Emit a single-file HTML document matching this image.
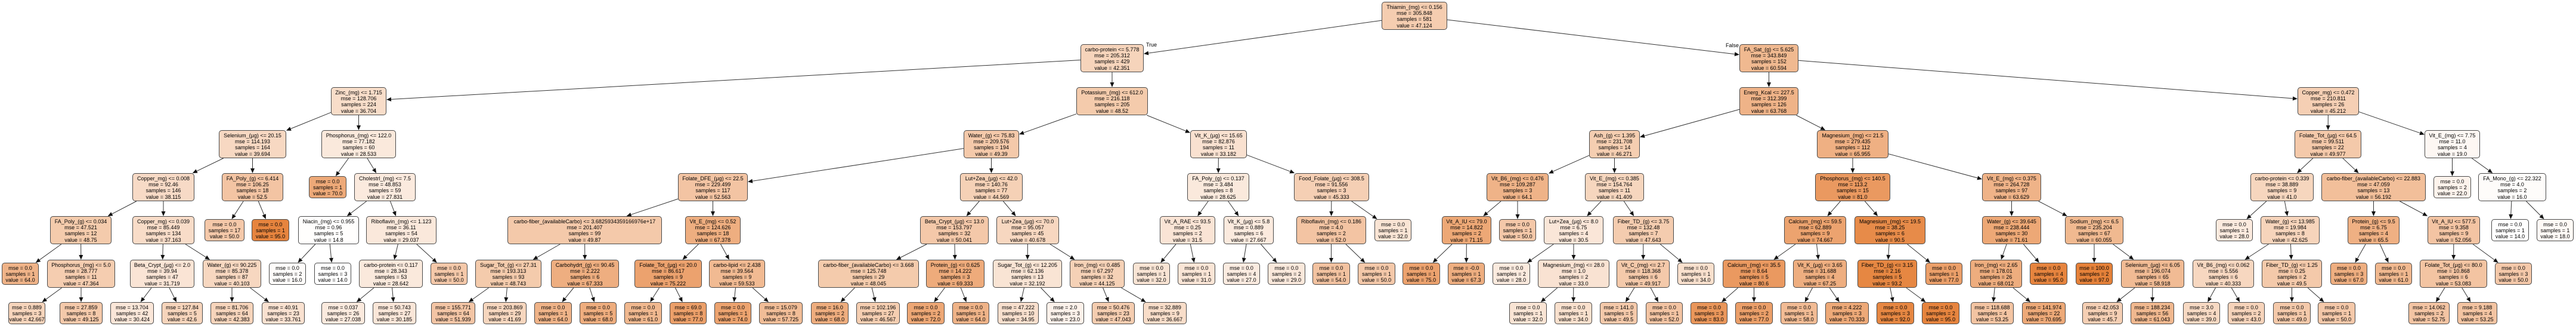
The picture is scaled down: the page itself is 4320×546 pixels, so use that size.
<!DOCTYPE html>
<html><head><meta charset="utf-8"><style>
html,body{margin:0;padding:0;background:#fff;}
#w{position:relative;width:4320px;height:546px;overflow:hidden;background:#fff;}
.n{position:absolute;box-sizing:border-box;height:47px;border:1px solid #4a4a4a;border-radius:5px;font:9px/10.2px "Liberation Sans",sans-serif;color:#000;text-align:center;padding-top:3px;white-space:nowrap;}
.l{height:37px;}
.lb{position:absolute;font:9px "Liberation Sans",sans-serif;color:#000;}
svg{position:absolute;left:0;top:0;}
</style></head><body><div id="w">
<div class="n" id="n1" style="left:2317px;top:3px;width:110px;background:#f5cdb0">Thiamin_(mg) &lt;= 0.156<br>mse = 305.848<br>samples = 581<br>value = 47.124</div>
<div class="n" id="n2" style="left:1812px;top:74px;width:106px;background:#f6d4bb">carbo-protein &lt;= 5.778<br>mse = 205.312<br>samples = 429<br>value = 42.351</div>
<div class="n" id="n3" style="left:2917px;top:74px;width:99px;background:#f0b990">FA_Sat_(g) &lt;= 5.625<br>mse = 343.849<br>samples = 152<br>value = 60.594</div>
<div class="n" id="n4" style="left:555px;top:146px;width:93px;background:#f8ddc9">Zinc_(mg) &lt;= 1.715<br>mse = 128.706<br>samples = 224<br>value = 36.704</div>
<div class="n" id="n5" style="left:1805px;top:146px;width:120px;background:#f4cbac">Potassium_(mg) &lt;= 612.0<br>mse = 216.118<br>samples = 205<br>value = 48.52</div>
<div class="n" id="n6" style="left:2917px;top:146px;width:99px;background:#efb388">Energ_Kcal &lt;= 227.5<br>mse = 312.399<br>samples = 126<br>value = 63.768</div>
<div class="n" id="n7" style="left:3853px;top:146px;width:103px;background:#f5cfb4">Copper_mg) &lt;= 0.472<br>mse = 210.811<br>samples = 26<br>value = 45.212</div>
<div class="n" id="n8" style="left:367px;top:218px;width:113px;background:#f7d8c2">Selenium_(µg) &lt;= 20.15<br>mse = 114.193<br>samples = 164<br>value = 39.694</div>
<div class="n" id="n9" style="left:539px;top:218px;width:125px;background:#fae9dc">Phosphorus_(mg) &lt;= 122.0<br>mse = 77.182<br>samples = 60<br>value = 28.533</div>
<div class="n" id="n10" style="left:1616px;top:218px;width:93px;background:#f4c9aa">Water_(g) &lt;= 75.83<br>mse = 209.576<br>samples = 194<br>value = 49.39</div>
<div class="n" id="n11" style="left:1996px;top:218px;width:95px;background:#f9e1d0">Vit_K_(µg) &lt;= 15.65<br>mse = 82.876<br>samples = 11<br>value = 33.182</div>
<div class="n" id="n12" style="left:2665px;top:218px;width:85px;background:#f5ceb1">Ash_(g) &lt;= 1.395<br>mse = 231.708<br>samples = 14<br>value = 46.271</div>
<div class="n" id="n13" style="left:3047px;top:218px;width:120px;background:#efb083">Magnesium_(mg) &lt;= 21.5<br>mse = 279.435<br>samples = 112<br>value = 65.955</div>
<div class="n" id="n14" style="left:3848px;top:218px;width:112px;background:#f4c9aa">Folate_Tot_(µg) &lt;= 64.5<br>mse = 99.511<br>samples = 22<br>value = 49.977</div>
<div class="n" id="n15" style="left:4066px;top:218px;width:93px;background:#fdf7f3">Vit_E_(mg) &lt;= 7.75<br>mse = 11.0<br>samples = 4<br>value = 19.0</div>
<div class="n" id="n16" style="left:222px;top:290px;width:104px;background:#f7dac6">Copper_mg) &lt;= 0.008<br>mse = 92.46<br>samples = 146<br>value = 38.115</div>
<div class="n" id="n17" style="left:372px;top:290px;width:103px;background:#f3c4a3">FA_Poly_(g) &lt;= 6.414<br>mse = 106.25<br>samples = 18<br>value = 52.5</div>
<div class="n l" id="n18" style="left:518px;top:295px;width:63px;background:#eda978">mse = 0.0<br>samples = 1<br>value = 70.0</div>
<div class="n" id="n19" style="left:594px;top:290px;width:103px;background:#fbeade">Cholestrl_(mg) &lt;= 7.5<br>mse = 48.853<br>samples = 59<br>value = 27.831</div>
<div class="n" id="n20" style="left:1137px;top:290px;width:117px;background:#f3c4a3">Folate_DFE_(µg) &lt;= 22.5<br>mse = 229.499<br>samples = 117<br>value = 52.563</div>
<div class="n" id="n21" style="left:1610px;top:290px;width:105px;background:#f5d1b6">Lut+Zea_(µg) &lt;= 42.0<br>mse = 140.76<br>samples = 77<br>value = 44.569</div>
<div class="n" id="n22" style="left:1991px;top:290px;width:104px;background:#fae9dc">FA_Poly_(g) &lt;= 0.137<br>mse = 3.484<br>samples = 8<br>value = 28.625</div>
<div class="n" id="n23" style="left:2170px;top:290px;width:126px;background:#f5cfb4">Food_Folate_(µg) &lt;= 308.5<br>mse = 91.556<br>samples = 3<br>value = 45.333</div>
<div class="n" id="n24" style="left:2493px;top:290px;width:104px;background:#efb388">Vit_B6_(mg) &lt;= 0.476<br>mse = 109.287<br>samples = 3<br>value = 64.1</div>
<div class="n" id="n25" style="left:2658px;top:290px;width:99px;background:#f6d6be">Vit_E_(mg) &lt;= 0.385<br>mse = 154.764<br>samples = 11<br>value = 41.409</div>
<div class="n" id="n26" style="left:3044px;top:290px;width:126px;background:#ea9960">Phosphorus_(mg) &lt;= 140.5<br>mse = 113.2<br>samples = 15<br>value = 81.0</div>
<div class="n" id="n27" style="left:3324px;top:290px;width:99px;background:#efb388">Vit_E_(mg) &lt;= 0.375<br>mse = 264.728<br>samples = 97<br>value = 63.629</div>
<div class="n" id="n28" style="left:3774px;top:290px;width:106px;background:#f6d6be">carbo-protein &lt;= 0.339<br>mse = 38.889<br>samples = 9<br>value = 41.0</div>
<div class="n" id="n29" style="left:3893px;top:290px;width:175px;background:#f2bf9a">carbo-fiber_(availableCarbo) &lt;= 22.883<br>mse = 47.059<br>samples = 13<br>value = 56.192</div>
<div class="n l" id="n30" style="left:4081px;top:295px;width:63px;background:#fdf3ec">mse = 0.0<br>samples = 2<br>value = 22.0</div>
<div class="n" id="n31" style="left:4156px;top:290px;width:114px;background:#fefcfa">FA_Mono_(g) &lt;= 22.322<br>mse = 4.0<br>samples = 2<br>value = 16.0</div>
<div class="n" id="n32" style="left:84px;top:362px;width:103px;background:#f4cbac">FA_Poly_(g) &lt;= 0.034<br>mse = 47.521<br>samples = 12<br>value = 48.75</div>
<div class="n" id="n33" style="left:222px;top:362px;width:104px;background:#f8dcc8">Copper_mg) &lt;= 0.039<br>mse = 85.449<br>samples = 134<br>value = 37.163</div>
<div class="n l" id="n34" style="left:343px;top:367px;width:67px;background:#f4c8a9">mse = 0.0<br>samples = 17<br>value = 50.0</div>
<div class="n l" id="n35" style="left:422px;top:367px;width:63px;background:#e6843e">mse = 0.0<br>samples = 1<br>value = 95.0</div>
<div class="n" id="n36" style="left:500px;top:362px;width:102px;background:#fffefd">Niacin_(mg) &lt;= 0.955<br>mse = 0.96<br>samples = 5<br>value = 14.8</div>
<div class="n" id="n37" style="left:614px;top:362px;width:118px;background:#fae8db">Riboflavin_(mg) &lt;= 1.123<br>mse = 36.11<br>samples = 54<br>value = 29.037</div>
<div class="n" id="n38" style="left:851px;top:362px;width:259px;background:#f4c9aa">carbo-fiber_(availableCarbo) &lt;= 3.6825934359166976e+17<br>mse = 201.407<br>samples = 99<br>value = 49.87</div>
<div class="n" id="n39" style="left:1149px;top:362px;width:93px;background:#eeae80">Vit_E_(mg) &lt;= 0.52<br>mse = 124.626<br>samples = 18<br>value = 67.378</div>
<div class="n" id="n40" style="left:1543px;top:362px;width:115px;background:#f4c8a9">Beta_Crypt_(µg) &lt;= 13.0<br>mse = 153.797<br>samples = 32<br>value = 50.041</div>
<div class="n" id="n41" style="left:1671px;top:362px;width:105px;background:#f7d7c0">Lut+Zea_(µg) &lt;= 70.0<br>mse = 95.057<br>samples = 45<br>value = 40.678</div>
<div class="n" id="n42" style="left:1945px;top:362px;width:93px;background:#fae4d5">Vit_A_RAE &lt;= 93.5<br>mse = 0.25<br>samples = 2<br>value = 31.5</div>
<div class="n" id="n43" style="left:2052px;top:362px;width:84px;background:#fbeade">Vit_K_(µg) &lt;= 5.8<br>mse = 0.889<br>samples = 6<br>value = 27.667</div>
<div class="n" id="n44" style="left:2174px;top:362px;width:117px;background:#f3c4a3">Riboflavin_(mg) &lt;= 0.186<br>mse = 4.0<br>samples = 2<br>value = 52.0</div>
<div class="n l" id="n45" style="left:2305px;top:367px;width:62px;background:#f9e4d4">mse = 0.0<br>samples = 1<br>value = 32.0</div>
<div class="n" id="n46" style="left:2418px;top:362px;width:83px;background:#eda876">Vit_A_IU &lt;= 79.0<br>mse = 14.822<br>samples = 2<br>value = 71.15</div>
<div class="n l" id="n47" style="left:2514px;top:367px;width:62px;background:#f4c8a9">mse = 0.0<br>samples = 1<br>value = 50.0</div>
<div class="n" id="n48" style="left:2589px;top:362px;width:100px;background:#fae6d8">Lut+Zea_(µg) &lt;= 8.0<br>mse = 6.75<br>samples = 4<br>value = 30.5</div>
<div class="n" id="n49" style="left:2705px;top:362px;width:102px;background:#f4ccaf">Fiber_TD_(g) &lt;= 3.75<br>mse = 132.48<br>samples = 7<br>value = 47.643</div>
<div class="n" id="n50" style="left:2992px;top:362px;width:104px;background:#eca36f">Calcium_(mg) &lt;= 59.5<br>mse = 62.889<br>samples = 9<br>value = 74.667</div>
<div class="n" id="n51" style="left:3110px;top:362px;width:119px;background:#e78b49">Magnesium_(mg) &lt;= 19.5<br>mse = 38.25<br>samples = 6<br>value = 90.5</div>
<div class="n" id="n52" style="left:3324px;top:362px;width:99px;background:#eda876">Water_(g) &lt;= 39.645<br>mse = 238.444<br>samples = 30<br>value = 71.61</div>
<div class="n" id="n53" style="left:3463px;top:362px;width:98px;background:#f0b990">Sodium_(mg) &lt;= 6.5<br>mse = 235.204<br>samples = 67<br>value = 60.055</div>
<div class="n l" id="n54" style="left:3716px;top:367px;width:62px;background:#fbeade">mse = 0.0<br>samples = 1<br>value = 28.0</div>
<div class="n" id="n55" style="left:3791px;top:362px;width:99px;background:#f6d4bb">Water_(g) &lt;= 13.985<br>mse = 19.984<br>samples = 8<br>value = 42.625</div>
<div class="n" id="n56" style="left:3937px;top:362px;width:87px;background:#efb083">Protein_(g) &lt;= 9.5<br>mse = 6.75<br>samples = 4<br>value = 65.5</div>
<div class="n" id="n57" style="left:4071px;top:362px;width:88px;background:#f3c4a3">Vit_A_IU &lt;= 577.5<br>mse = 9.358<br>samples = 9<br>value = 52.056</div>
<div class="n l" id="n58" style="left:4178px;top:367px;width:63px;background:#ffffff">mse = 0.0<br>samples = 1<br>value = 14.0</div>
<div class="n l" id="n59" style="left:4254px;top:367px;width:62px;background:#fef9f5">mse = 0.0<br>samples = 1<br>value = 18.0</div>
<div class="n l" id="n60" style="left:3px;top:440px;width:62px;background:#efb388">mse = 0.0<br>samples = 1<br>value = 64.0</div>
<div class="n" id="n61" style="left:79px;top:435px;width:114px;background:#f5cdb0">Phosphorus_(mg) &lt;= 5.0<br>mse = 28.777<br>samples = 11<br>value = 47.364</div>
<div class="n" id="n62" style="left:218px;top:435px;width:108px;background:#fae4d5">Beta_Crypt_(µg) &lt;= 2.0<br>mse = 39.94<br>samples = 47<br>value = 31.719</div>
<div class="n" id="n63" style="left:340px;top:435px;width:98px;background:#f7d7c0">Water_(g) &lt;= 90.225<br>mse = 85.378<br>samples = 87<br>value = 40.103</div>
<div class="n l" id="n64" style="left:451px;top:440px;width:62px;background:#fefcfa">mse = 0.0<br>samples = 2<br>value = 16.0</div>
<div class="n l" id="n65" style="left:527px;top:440px;width:62px;background:#ffffff">mse = 0.0<br>samples = 3<br>value = 14.0</div>
<div class="n" id="n66" style="left:602px;top:435px;width:107px;background:#fae9dc">carbo-protein &lt;= 0.117<br>mse = 28.343<br>samples = 53<br>value = 28.642</div>
<div class="n l" id="n67" style="left:722px;top:440px;width:62px;background:#f4c8a9">mse = 0.0<br>samples = 1<br>value = 50.0</div>
<div class="n" id="n68" style="left:797px;top:435px;width:111px;background:#f4cbac">Sugar_Tot_(g) &lt;= 27.31<br>mse = 193.313<br>samples = 93<br>value = 48.743</div>
<div class="n" id="n69" style="left:924px;top:435px;width:114px;background:#eeae80">Carbohydrt_(g) &lt;= 90.45<br>mse = 2.222<br>samples = 6<br>value = 67.333</div>
<div class="n" id="n70" style="left:1064px;top:435px;width:113px;background:#eca26e">Folate_Tot_(µg) &lt;= 20.0<br>mse = 86.617<br>samples = 9<br>value = 75.222</div>
<div class="n" id="n71" style="left:1189px;top:435px;width:94px;background:#f1ba92">carbo-lipid &lt;= 2.438<br>mse = 39.564<br>samples = 9<br>value = 59.533</div>
<div class="n" id="n72" style="left:1372px;top:435px;width:169px;background:#f4cbac">carbo-fiber_(availableCarbo) &lt;= 3.668<br>mse = 125.748<br>samples = 29<br>value = 48.045</div>
<div class="n" id="n73" style="left:1553px;top:435px;width:98px;background:#eeab7b">Protein_(g) &lt;= 0.625<br>mse = 14.222<br>samples = 3<br>value = 69.333</div>
<div class="n" id="n74" style="left:1665px;top:435px;width:116px;background:#f9e4d4">Sugar_Tot_(g) &lt;= 12.205<br>mse = 62.136<br>samples = 13<br>value = 32.192</div>
<div class="n" id="n75" style="left:1794px;top:435px;width:92px;background:#f5d1b6">Iron_(mg) &lt;= 0.485<br>mse = 67.297<br>samples = 32<br>value = 44.125</div>
<div class="n l" id="n76" style="left:1900px;top:440px;width:62px;background:#f9e4d4">mse = 0.0<br>samples = 1<br>value = 32.0</div>
<div class="n l" id="n77" style="left:1975px;top:440px;width:63px;background:#fae5d6">mse = 0.0<br>samples = 1<br>value = 31.0</div>
<div class="n l" id="n78" style="left:2051px;top:440px;width:62px;background:#fbebe0">mse = 0.0<br>samples = 4<br>value = 27.0</div>
<div class="n l" id="n79" style="left:2126px;top:440px;width:63px;background:#fae8db">mse = 0.0<br>samples = 2<br>value = 29.0</div>
<div class="n l" id="n80" style="left:2201px;top:440px;width:63px;background:#f2c2a0">mse = 0.0<br>samples = 1<br>value = 54.0</div>
<div class="n l" id="n81" style="left:2277px;top:440px;width:63px;background:#f4c8a9">mse = 0.0<br>samples = 1<br>value = 50.0</div>
<div class="n l" id="n82" style="left:2352px;top:440px;width:63px;background:#eca26e">mse = 0.0<br>samples = 1<br>value = 75.0</div>
<div class="n l" id="n83" style="left:2428px;top:440px;width:62px;background:#eeae80">mse = -0.0<br>samples = 1<br>value = 67.3</div>
<div class="n l" id="n84" style="left:2503px;top:440px;width:63px;background:#fbeade">mse = 0.0<br>samples = 2<br>value = 28.0</div>
<div class="n" id="n85" style="left:2579px;top:435px;width:120px;background:#f9e2d2">Magnesium_(mg) &lt;= 28.0<br>mse = 1.0<br>samples = 2<br>value = 33.0</div>
<div class="n" id="n86" style="left:2711px;top:435px;width:89px;background:#f4c9aa">Vit_C_(mg) &lt;= 2.7<br>mse = 118.368<br>samples = 6<br>value = 49.917</div>
<div class="n l" id="n87" style="left:2813px;top:440px;width:62px;background:#f9e0cd">mse = 0.0<br>samples = 1<br>value = 34.0</div>
<div class="n" id="n88" style="left:2889px;top:435px;width:105px;background:#ea9960">Calcium_(mg) &lt;= 35.5<br>mse = 8.64<br>samples = 5<br>value = 80.6</div>
<div class="n" id="n89" style="left:3007px;top:435px;width:90px;background:#eeae80">Vit_K_(µg) &lt;= 3.65<br>mse = 31.688<br>samples = 4<br>value = 67.25</div>
<div class="n" id="n90" style="left:3115px;top:435px;width:100px;background:#e68742">Fiber_TD_(g) &lt;= 3.15<br>mse = 2.16<br>samples = 5<br>value = 93.2</div>
<div class="n l" id="n91" style="left:3229px;top:440px;width:62px;background:#eb9f69">mse = 0.0<br>samples = 1<br>value = 77.0</div>
<div class="n" id="n92" style="left:3304px;top:435px;width:87px;background:#eead7e">Iron_(mg) &lt;= 2.65<br>mse = 178.01<br>samples = 26<br>value = 68.012</div>
<div class="n l" id="n93" style="left:3404px;top:440px;width:63px;background:#e6843e">mse = 0.0<br>samples = 4<br>value = 95.0</div>
<div class="n l" id="n94" style="left:3481px;top:440px;width:62px;background:#e58139">mse = 100.0<br>samples = 2<br>value = 97.0</div>
<div class="n" id="n95" style="left:3557px;top:435px;width:106px;background:#f1bb94">Selenium_(µg) &lt;= 6.05<br>mse = 196.074<br>samples = 65<br>value = 58.918</div>
<div class="n" id="n96" style="left:3677px;top:435px;width:103px;background:#f7d7c0">Vit_B6_(mg) &lt;= 0.062<br>mse = 5.556<br>samples = 6<br>value = 40.333</div>
<div class="n" id="n97" style="left:3793px;top:435px;width:101px;background:#f4c9aa">Fiber_TD_(g) &lt;= 1.25<br>mse = 0.25<br>samples = 2<br>value = 49.5</div>
<div class="n l" id="n98" style="left:3908px;top:440px;width:62px;background:#eeae80">mse = 0.0<br>samples = 3<br>value = 67.0</div>
<div class="n l" id="n99" style="left:3983px;top:440px;width:62px;background:#f0b88f">mse = 0.0<br>samples = 1<br>value = 61.0</div>
<div class="n" id="n100" style="left:4058px;top:435px;width:113px;background:#f3c4a2">Folate_Tot_(µg) &lt;= 80.0<br>mse = 10.868<br>samples = 6<br>value = 53.083</div>
<div class="n l" id="n101" style="left:4184px;top:440px;width:62px;background:#f4c8a9">mse = 0.0<br>samples = 3<br>value = 50.0</div>
<div class="n l" id="n102" style="left:14px;top:506px;width:62px;background:#f6d4bb">mse = 0.889<br>samples = 3<br>value = 42.667</div>
<div class="n l" id="n103" style="left:100px;top:506px;width:72px;background:#f4c9aa">mse = 27.859<br>samples = 8<br>value = 49.125</div>
<div class="n l" id="n104" style="left:185px;top:506px;width:73px;background:#fae6d8">mse = 13.704<br>samples = 42<br>value = 30.424</div>
<div class="n l" id="n105" style="left:271px;top:506px;width:69px;background:#f6d4bb">mse = 127.84<br>samples = 5<br>value = 42.6</div>
<div class="n l" id="n106" style="left:353px;top:506px;width:72px;background:#f6d4bb">mse = 81.706<br>samples = 64<br>value = 42.383</div>
<div class="n l" id="n107" style="left:439px;top:506px;width:72px;background:#f9e1d0">mse = 40.91<br>samples = 23<br>value = 33.761</div>
<div class="n l" id="n108" style="left:539px;top:506px;width:73px;background:#fbeade">mse = 0.037<br>samples = 26<br>value = 27.038</div>
<div class="n l" id="n109" style="left:625px;top:506px;width:73px;background:#fae6d8">mse = 50.743<br>samples = 27<br>value = 30.185</div>
<div class="n l" id="n110" style="left:723px;top:506px;width:74px;background:#f3c5a5">mse = 155.771<br>samples = 64<br>value = 51.939</div>
<div class="n l" id="n111" style="left:810px;top:506px;width:73px;background:#f6d6be">mse = 203.869<br>samples = 29<br>value = 41.69</div>
<div class="n l" id="n112" style="left:896px;top:506px;width:63px;background:#efb388">mse = 0.0<br>samples = 1<br>value = 64.0</div>
<div class="n l" id="n113" style="left:972px;top:506px;width:62px;background:#eead7e">mse = 0.0<br>samples = 5<br>value = 68.0</div>
<div class="n l" id="n114" style="left:1047px;top:506px;width:63px;background:#f0b88f">mse = 0.0<br>samples = 1<br>value = 61.0</div>
<div class="n l" id="n115" style="left:1123px;top:506px;width:62px;background:#eb9f69">mse = 69.0<br>samples = 8<br>value = 77.0</div>
<div class="n l" id="n116" style="left:1198px;top:506px;width:62px;background:#eca36f">mse = 0.0<br>samples = 1<br>value = 74.0</div>
<div class="n l" id="n117" style="left:1273px;top:506px;width:73px;background:#f1bd97">mse = 15.079<br>samples = 8<br>value = 57.725</div>
<div class="n l" id="n118" style="left:1360px;top:506px;width:63px;background:#eead7e">mse = 16.0<br>samples = 2<br>value = 68.0</div>
<div class="n l" id="n119" style="left:1436px;top:506px;width:73px;background:#f5ceb1">mse = 102.196<br>samples = 27<br>value = 46.567</div>
<div class="n l" id="n120" style="left:1521px;top:506px;width:63px;background:#eda775">mse = 0.0<br>samples = 2<br>value = 72.0</div>
<div class="n l" id="n121" style="left:1597px;top:506px;width:62px;background:#efb388">mse = 0.0<br>samples = 1<br>value = 64.0</div>
<div class="n l" id="n122" style="left:1673px;top:506px;width:69px;background:#f8dfcd">mse = 47.222<br>samples = 10<br>value = 34.95</div>
<div class="n l" id="n123" style="left:1755px;top:506px;width:63px;background:#fcf1ea">mse = 2.0<br>samples = 3<br>value = 23.0</div>
<div class="n l" id="n124" style="left:1831px;top:506px;width:72px;background:#f5cdb0">mse = 50.476<br>samples = 23<br>value = 47.043</div>
<div class="n l" id="n125" style="left:1917px;top:506px;width:73px;background:#f8ddc9">mse = 32.889<br>samples = 9<br>value = 36.667</div>
<div class="n l" id="n126" style="left:2531px;top:506px;width:63px;background:#f9e4d4">mse = 0.0<br>samples = 1<br>value = 32.0</div>
<div class="n l" id="n127" style="left:2607px;top:506px;width:63px;background:#f9e0cd">mse = 0.0<br>samples = 1<br>value = 34.0</div>
<div class="n l" id="n128" style="left:2683px;top:506px;width:63px;background:#f4c9aa">mse = 141.0<br>samples = 5<br>value = 49.5</div>
<div class="n l" id="n129" style="left:2760px;top:506px;width:62px;background:#f3c4a3">mse = 0.0<br>samples = 1<br>value = 52.0</div>
<div class="n l" id="n130" style="left:2835px;top:506px;width:62px;background:#e9965a">mse = 0.0<br>samples = 3<br>value = 83.0</div>
<div class="n l" id="n131" style="left:2910px;top:506px;width:63px;background:#eb9f69">mse = 0.0<br>samples = 2<br>value = 77.0</div>
<div class="n l" id="n132" style="left:2986px;top:506px;width:62px;background:#f1bb94">mse = 0.0<br>samples = 1<br>value = 58.0</div>
<div class="n l" id="n133" style="left:3061px;top:506px;width:73px;background:#eda978">mse = 4.222<br>samples = 3<br>value = 70.333</div>
<div class="n l" id="n134" style="left:3147px;top:506px;width:63px;background:#e68742">mse = 0.0<br>samples = 3<br>value = 92.0</div>
<div class="n l" id="n135" style="left:3223px;top:506px;width:63px;background:#e6843e">mse = 0.0<br>samples = 2<br>value = 95.0</div>
<div class="n l" id="n136" style="left:3305px;top:506px;width:72px;background:#f3c4a2">mse = 118.688<br>samples = 4<br>value = 53.25</div>
<div class="n l" id="n137" style="left:3391px;top:506px;width:73px;background:#eda978">mse = 141.974<br>samples = 22<br>value = 70.695</div>
<div class="n l" id="n138" style="left:3492px;top:506px;width:68px;background:#f5cfb4">mse = 42.053<br>samples = 9<br>value = 45.7</div>
<div class="n l" id="n139" style="left:3573px;top:506px;width:73px;background:#f0b88f">mse = 188.234<br>samples = 56<br>value = 61.043</div>
<div class="n l" id="n140" style="left:3661px;top:506px;width:62px;background:#f7d9c3">mse = 3.0<br>samples = 4<br>value = 39.0</div>
<div class="n l" id="n141" style="left:3736px;top:506px;width:62px;background:#f6d3ba">mse = 0.0<br>samples = 2<br>value = 43.0</div>
<div class="n l" id="n142" style="left:3812px;top:506px;width:63px;background:#f4c9aa">mse = 0.0<br>samples = 1<br>value = 49.0</div>
<div class="n l" id="n143" style="left:3887px;top:506px;width:63px;background:#f4c8a9">mse = 0.0<br>samples = 1<br>value = 50.0</div>
<div class="n l" id="n144" style="left:4039px;top:506px;width:69px;background:#f3c4a3">mse = 14.062<br>samples = 2<br>value = 52.75</div>
<div class="n l" id="n145" style="left:4121px;top:506px;width:67px;background:#f3c4a2">mse = 9.188<br>samples = 4<br>value = 53.25</div>
<div class="lb" style="left:1922px;top:70px">True</div>
<div class="lb" style="left:2894px;top:71px">False</div>
<svg id="sv" width="4320" height="546" xmlns="http://www.w3.org/2000/svg"></svg>
</div>
<script>
(function(){
var T={1:[2,3],2:[4,5],3:[6,7],4:[8,9],5:[10,11],6:[12,13],7:[14,15],8:[16,17],9:[18,19],10:[20,21],11:[22,23],12:[24,25],13:[26,27],14:[28,29],15:[30,31],16:[32,33],17:[34,35],19:[36,37],20:[38,39],21:[40,41],22:[42,43],23:[44,45],24:[46,47],25:[48,49],26:[50,51],27:[52,53],28:[54,55],29:[56,57],31:[58,59],32:[60,61],33:[62,63],36:[64,65],37:[66,67],38:[68,69],39:[70,71],40:[72,73],41:[74,75],42:[76,77],43:[78,79],44:[80,81],46:[82,83],48:[84,85],49:[86,87],50:[88,89],51:[90,91],52:[92,93],53:[94,95],55:[96,97],56:[98,99],57:[100,101],61:[102,103],62:[104,105],63:[106,107],66:[108,109],68:[110,111],69:[112,113],70:[114,115],71:[116,117],72:[118,119],73:[120,121],74:[122,123],75:[124,125],85:[126,127],86:[128,129],88:[130,131],89:[132,133],90:[134,135],92:[136,137],95:[138,139],96:[140,141],97:[142,143],100:[144,145]};
function box(i){var e=document.getElementById('n'+i);return{x:e.offsetLeft,y:e.offsetTop,w:e.offsetWidth,h:e.offsetHeight};}
function clip(b,dx,dy){var hw=b.w/2,hh=b.h/2;var t=Math.min(dx?hw/Math.abs(dx):1e9,dy?hh/Math.abs(dy):1e9);return[b.x+hw+dx*t,b.y+hh+dy*t];}
var s='';
for(var p in T){var P=box(p);T[p].forEach(function(c){var C=box(c);
var pcx=P.x+P.w/2,pcy=P.y+P.h/2,ccx=C.x+C.w/2,ccy=C.y+C.h/2;
var dx=ccx-pcx,dy=ccy-pcy;var L=Math.sqrt(dx*dx+dy*dy);dx/=L;dy/=L;
var a=clip(P,dx,dy),b=clip(C,-dx,-dy);
var bx=b[0]-dx*8,by=b[1]-dy*8,nx=-dy*3.5,ny=dx*3.5;
s+='<line x1="'+a[0]+'" y1="'+a[1]+'" x2="'+bx+'" y2="'+by+'" stroke="#333" stroke-width="1"/>';
s+='<polygon points="'+b[0]+','+b[1]+' '+(bx+nx)+','+(by+ny)+' '+(bx-nx)+','+(by-ny)+'" fill="#111"/>';
});}
document.getElementById('sv').innerHTML=s;
})();
</script>
</body></html>
